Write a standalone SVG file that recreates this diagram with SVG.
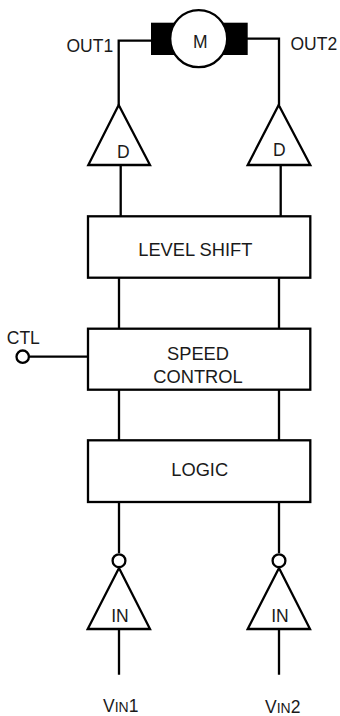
<svg xmlns="http://www.w3.org/2000/svg" width="340" height="716" viewBox="0 0 340 716">
<style>
.s{fill:none;stroke:#000;stroke-width:2.3}
.n{fill:#fff;stroke:#000;stroke-width:2.3}
text{font-family:"Liberation Sans",Arial,sans-serif;font-size:18.300px;fill:#1a1a1a}
.m{text-anchor:middle}
.l{font-size:17.500px}
.sm{font-size:14px}
</style>
<rect width="340" height="716" fill="#fff"/>
<g id="connectors">
<path class="s" d="M151 40.700H118.700V105"/>
<path class="s" d="M247 38.700H279V105"/>
<path class="s" d="M120.700 165V216M280.700 165V216"/>
<path class="s" d="M119 278V329M279 278V329"/>
<path class="s" d="M119 390V440M279 390V440"/>
<path class="s" d="M119 502V553M279 502V553"/>
<path class="s" d="M119 629V674.700M279 629V674.700"/>
<path class="s" d="M29 356.700H88"/>
</g>
<g id="motor">
<rect x="151" y="22.700" width="96.700" height="32.300" fill="#000"/>
<circle class="n" cx="198.700" cy="38.700" r="28.500"/>
<text class="m l" x="200.300" y="47.500">M</text>
</g>
<g id="out1"><text class="l" x="66.500" y="51.500">OUT1</text></g>
<g id="out2"><text class="l" x="290.500" y="49.500">OUT2</text></g>
<g id="driver1"><path class="n" d="M118.700 105L150 165H88.300Z"/><text class="m l" x="123.300" y="158">D</text></g>
<g id="driver2"><path class="n" d="M278.700 105L310.300 165H247.700Z"/><text class="m l" x="279.300" y="155.500">D</text></g>
<g id="level-shift"><rect class="n" x="88" y="216.300" width="222.300" height="61.400"/><text class="m" x="195.300" y="256">LEVEL SHIFT</text></g>
<g id="speed-control"><rect class="n" x="88" y="328.700" width="222.300" height="61"/><text class="m" x="198" y="360">SPEED</text><text class="m" x="198" y="382.700">CONTROL</text></g>
<g id="logic"><rect class="n" x="88" y="440.300" width="222.300" height="61.700"/><text class="m" x="199.700" y="476">LOGIC</text></g>
<g id="ctl"><circle class="n" cx="22.700" cy="356.700" r="6.200"/><text class="l" x="6.800" y="343.700">CTL</text></g>
<g id="inverter1"><circle class="n" cx="119" cy="560.700" r="6.400"/><path class="n" d="M119 568L150 629H87.700Z"/><text class="m l" x="120" y="622">IN</text></g>
<g id="inverter2"><circle class="n" cx="279" cy="560.700" r="6.400"/><path class="n" d="M279 568L310 629H247.700Z"/><text class="m l" x="280" y="622">IN</text></g>
<g id="vin1"><text class="l" x="103" y="712">V<tspan class="sm">IN</tspan>1</text></g>
<g id="vin2"><text class="l" x="265" y="712.500">V<tspan class="sm">IN</tspan>2</text></g>
</svg>
